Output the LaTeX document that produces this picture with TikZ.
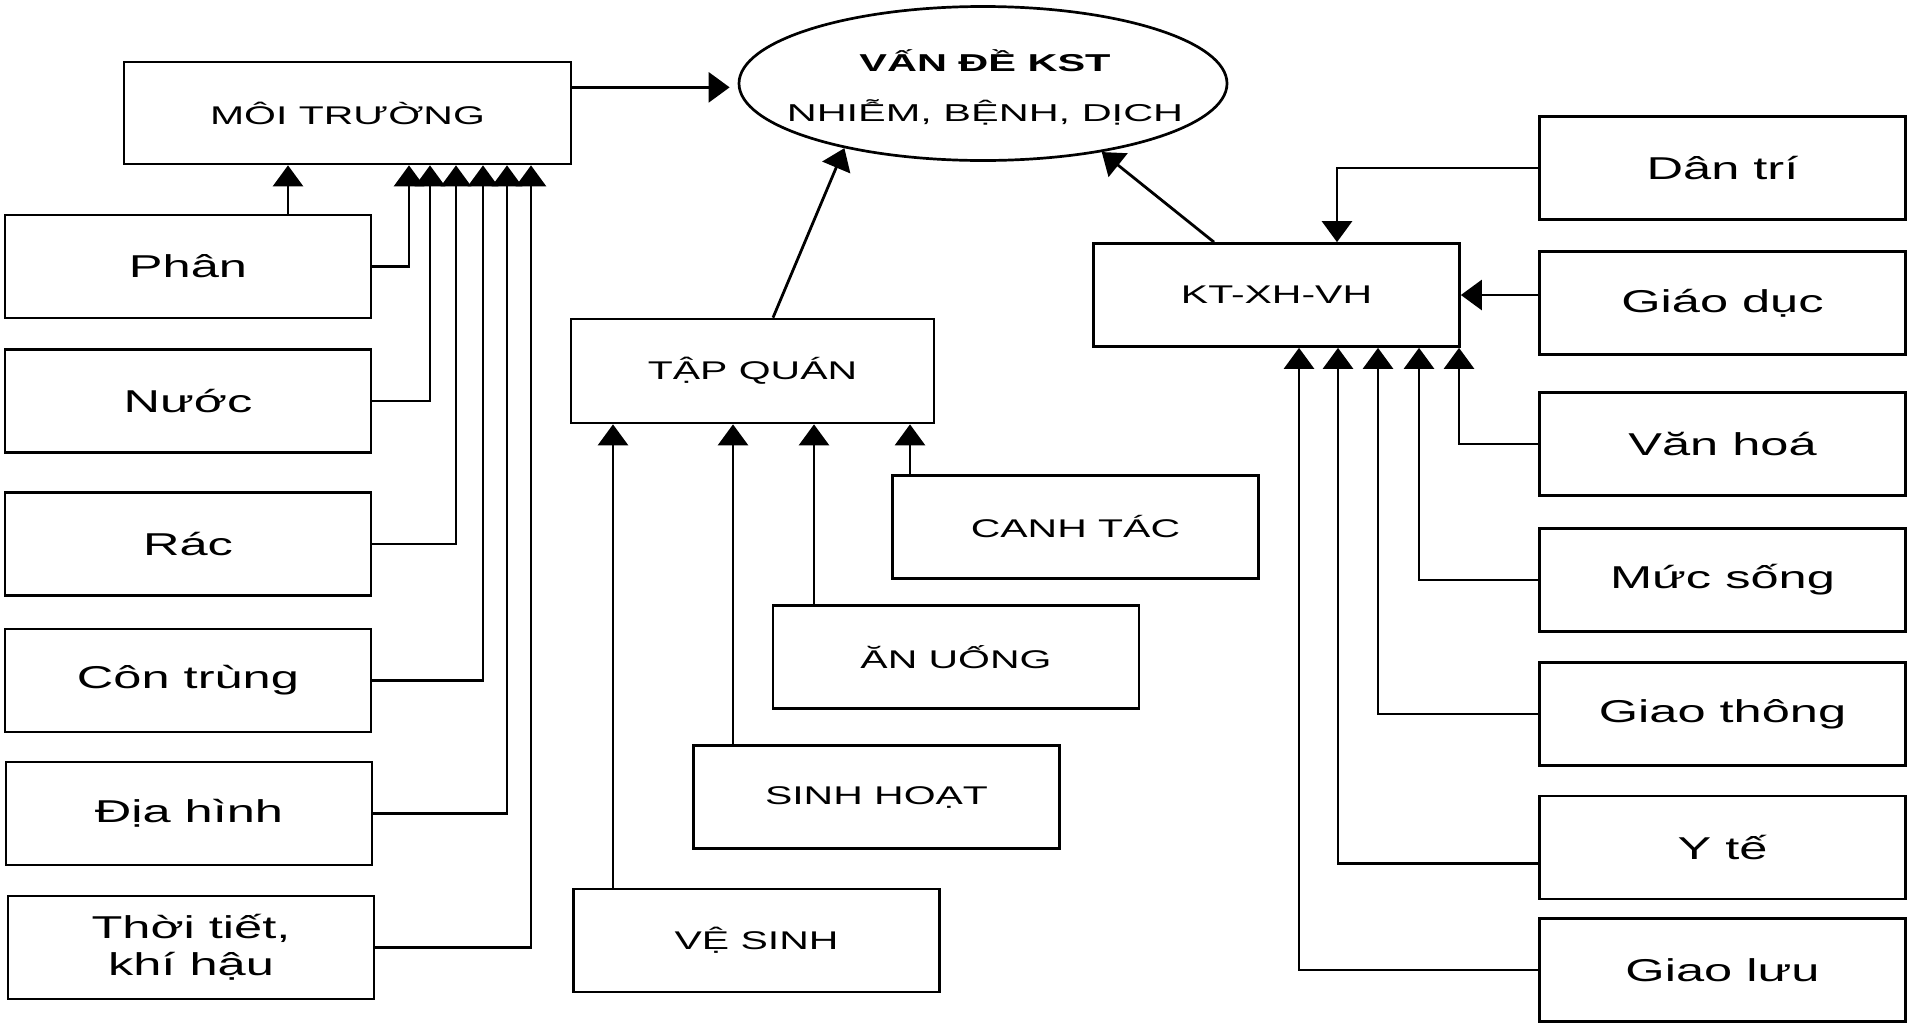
\documentclass[tikz,border=0pt]{standalone}
\usepackage{fontspec}
\setmainfont{Liberation Sans}[FakeStretch=1.6]
\newfontfamily\ellfont[FakeStretch=1.7]{Liberation Sans}
\usetikzlibrary{arrows.meta,shapes.geometric,calc}
\begin{document}
\begin{tikzpicture}[x=0.5pt,y=-0.5pt,
  box/.style={draw, line width=1.35pt, minimum width=183pt, minimum height=51.5pt, inner sep=0pt, align=center},
  lab/.style={box, font=\fontsize{15.8}{18.5}\selectfont},
  capbox/.style={box, font=\fontsize{12.8}{15}\selectfont},
  conn/.style={line width=1.4pt},
  arr/.style={conn, -{Triangle[length=10.5pt,width=15pt]}},
]
\useasboundingbox (0,0) rectangle (1911,1023);

% central problem
\node[ellipse, draw, line width=1.35pt, minimum width=244pt, minimum height=77pt, inner sep=0pt] (ell) at (983,83.5) {};
\node[align=center, inner sep=0pt, font=\ellfont\fontsize{12.2}{25}\selectfont] (elltxt) at (985,87)
  {{\bfseries VẤN ĐỀ KST}\\NHIỄM, BỆNH, DỊCH};

% main groups
\node[capbox, minimum width=223.5pt, minimum height=51pt] (moi) at (347.5,113) {MÔI TRƯỜNG};
\node[capbox, minimum width=181.5pt, minimum height=52pt] (tq) at (752.5,371) {TẬP QUÁN};
\node[capbox] (kt) at (1276.5,295) {KT-XH-VH};

% left column
\node[lab] (phan) at (188,266.5) {Phân};
\node[lab] (nuoc) at (188,401) {Nước};
\node[lab] (rac) at (188,544) {Rác};
\node[lab] (con) at (188,680.5) {Côn trùng};
\node[lab] (dia) at (189,813.5) {Địa hình};
\node[lab] (thoi) at (191,947.5) {Thời tiết,\\khí hậu};

% middle column
\node[capbox] (canh) at (1075.5,527) {CANH TÁC};
\node[capbox] (an) at (956,657) {ĂN UỐNG};
\node[capbox] (sinh) at (876.5,797) {SINH HOẠT};
\node[capbox] (ve) at (756.5,940.5) {VỆ SINH};

% right column
\node[lab] (dan) at (1722.5,168) {Dân trí};
\node[lab] (giao) at (1722.5,303) {Giáo dục};
\node[lab] (van) at (1722.5,444) {Văn hoá};
\node[lab] (muc) at (1722.5,580) {Mức sống};
\node[lab] (gt) at (1722.5,714) {Giao thông};
\node[lab] (yte) at (1722.5,847.5) {Y tế};
\node[lab] (gl) at (1722.5,970) {Giao lưu};

% connectors to MOI TRUONG
\coordinate (cphantop) at (288,0);
\draw[arr] (phan.north -| cphantop) -- (moi.south -| cphantop);
\foreach \n/\x in {phan/409, nuoc/430, rac/456, con/483, dia/507, thoi/531} {
  \coordinate (c\n) at (\x,0);
  \draw[arr] (\n.east) -| (moi.south -| c\n);
}

% connectors to TAP QUAN
\foreach \n/\x in {ve/613, sinh/733, an/814, canh/910} {
  \coordinate (c\n) at (\x,0);
  \draw[arr] (\n.north -| c\n) -- (tq.south -| c\n);
}

% connectors to KT-XH-VH
\coordinate (cdan) at (1337,0);
\draw[arr] (dan.west) -| (kt.north -| cdan);
\draw[arr] (giao.west |- kt.east) -- (kt.east);
\foreach \n/\x in {van/1459, muc/1419, gt/1378, gl/1299} {
  \coordinate (c\n) at (\x,0);
  \draw[arr] (\n.west) -| (kt.south -| c\n);
}
\coordinate (yteout) at ([yshift=-8pt]yte.west);
\coordinate (cyte) at (1338,0);
\draw[arr] (yteout) -| (kt.south -| cyte);

% connectors to the central problem
\coordinate (moiout) at ($(moi.north east)!0.255!(moi.south east)$);
\draw[arr, shorten >=4pt] (moiout) -- (moiout -| ell.west);
\coordinate (ctq) at (773,0);
\draw[arr] (tq.north -| ctq) -- (ell.205);
\coordinate (ckt) at (1214,0);
\draw[arr] (kt.north -| ckt) -- (ell.330);
\end{tikzpicture}
\end{document}
